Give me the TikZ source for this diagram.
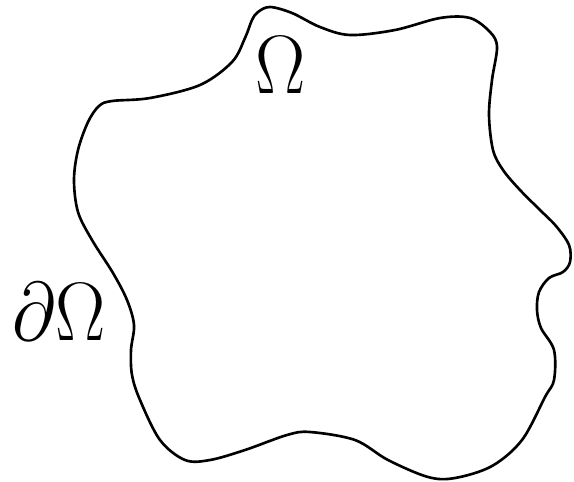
\documentclass[tikz,border=0pt]{standalone}
\usepackage{tikz}

\tikzset{
  boundary/.style={line width=1.5pt, black, line join=round},
  domlabel/.style={inner sep=0pt, anchor=base, xscale=1.72, yscale=1.9, font=\Huge}
}

\begin{document}
\begin{tikzpicture}[x=0.02cm, y=-0.02cm]
  \useasboundingbox (0,0) rectangle (574,481);
  % the domain
  \draw[boundary] plot[smooth cycle, tension=0.55] coordinates {
    (270,7) (292,13) (320,27) (350,35) (395,30) (440,18) (470,18) (490,32)
    (497,47) (492,80) (489,115) (493,150) (503,170) (520,190) (540,210)
    (556,226) (569,245) (570,262) (563,272) (549,278) (539,292) (537,310)
    (541,328) (554,350) (554,380) (545,397) (522,440) (492,466) (455,478)
    (428,477) (388,460) (355,440) (310,432) (287,435) (245,450) (210,460)
    (185,460) (160,440) (140,400) (132,375) (131,350) (134,325) (127,300)
    (113,273) (92,240) (78,212) (74,180) (78,150) (88,122) (99,106)
    (112,101) (150,98) (200,85) (232,62) (245,38) (252,20) (258,12)};
  % labels
  \node[domlabel] (omega) at (281,93) {$\Omega$};
  \node[domlabel] (domega) at (59,340) {$\partial\Omega$};
\end{tikzpicture}
\end{document}
